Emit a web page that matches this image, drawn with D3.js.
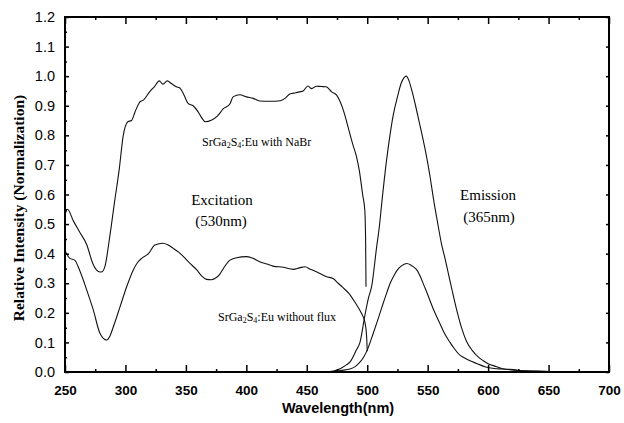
<!DOCTYPE html>
<html><head><meta charset="utf-8">
<script src="https://cdn.jsdelivr.net/npm/d3@7/dist/d3.min.js"></script>
<style>html,body{margin:0;padding:0;background:#fff;}svg{display:block;}</style>
</head><body>
<svg id="c" width="624" height="423"></svg>
<script>
// ---- data ----
const xTicks = [250,300,350,400,450,500,550,600,650,700];
const yTicks = [0.0,0.1,0.2,0.3,0.4,0.5,0.6,0.7,0.8,0.9,1.0,1.1,1.2];

const exNaBrX = [250,252,257,262,268,273,276,279,281,283,287,291,295,298,302,305,308,312,315,320,324,328,331,334.6,338,342,345,348,352,356,360,363,366,371,376,381,386.5,389,394.7,400,405.8,411,420,428,432,436,441,444,447,451,454,458,462,466,470.6,474.7,478,481,484,488,491,493.5,496.2,498,498.7,499];
const exNaBrY = [0.53,0.55,0.51,0.474,0.43,0.367,0.345,0.338,0.34,0.356,0.457,0.575,0.69,0.795,0.846,0.85,0.88,0.913,0.92,0.947,0.965,0.984,0.973,0.984,0.975,0.964,0.96,0.94,0.907,0.9,0.88,0.86,0.846,0.851,0.865,0.89,0.907,0.93,0.937,0.93,0.925,0.916,0.915,0.917,0.925,0.94,0.944,0.947,0.95,0.967,0.958,0.966,0.965,0.964,0.947,0.936,0.91,0.875,0.83,0.77,0.73,0.68,0.6,0.547,0.435,0.288];

const exNoFluxX = [250,254,258,262,268,273.4,279,284.5,287,290,295.5,301,306.5,310,313.4,319,324.4,331,335,339.6,344,348,353.4,359,363,367,371,374,378,381,386.5,392,400,405,411,417,422,430.6,438.8,444,448.5,453,458,466.4,471.7,476,480,485,490,495,498,499.5,500];
const exNoFluxY = [0.41,0.384,0.378,0.345,0.277,0.21,0.13,0.108,0.12,0.153,0.22,0.288,0.345,0.37,0.384,0.4,0.429,0.435,0.43,0.418,0.405,0.39,0.367,0.345,0.325,0.313,0.312,0.316,0.33,0.35,0.378,0.386,0.39,0.385,0.373,0.365,0.358,0.354,0.347,0.352,0.356,0.347,0.339,0.322,0.316,0.3,0.285,0.265,0.235,0.2,0.17,0.12,0.07];

const emNaBrX = [465,472,478,483,486,491,494,498,501,503.7,507.8,510,512,516,518.8,521.6,525,528,530.5,532.3,534.5,537,540,543,546,549,552,555,558,561.6,564,567,570,574,578,582,587,592,596,600,607,613,620.8,630,640,660,700];
const emNaBrY = [0,0.003,0.012,0.025,0.035,0.074,0.1,0.19,0.25,0.29,0.423,0.49,0.57,0.716,0.8,0.87,0.93,0.975,0.995,1.0,0.985,0.95,0.9,0.845,0.79,0.73,0.66,0.58,0.51,0.43,0.39,0.335,0.28,0.21,0.15,0.105,0.072,0.05,0.038,0.028,0.018,0.01,0.008,0.004,0.003,0.001,0.001];

const emNoFluxX = [470,478,485.7,490,493,497,500,505,510.5,513,516,519,521.6,525,528,532.6,536,538,541,544,547,550,553,556,560,563,568.5,571,576.7,579.5,585,590.5,598,605,612,625,640,660,700];
const emNoFluxY = [0,0.005,0.01,0.018,0.029,0.05,0.074,0.131,0.198,0.23,0.266,0.3,0.322,0.345,0.358,0.367,0.362,0.356,0.345,0.322,0.292,0.262,0.23,0.2,0.165,0.138,0.1,0.085,0.057,0.05,0.038,0.029,0.017,0.012,0.01,0.005,0.002,0.001,0.001];

// ---- layout ----
const L = 65, R = 609, T = 17, B = 372;
const svg = d3.select("#c");
const x = d3.scaleLinear().domain([250,700]).range([L,R]);
const y = d3.scaleLinear().domain([0,1.2]).range([B,T]);

const line = d3.line().x(d=>x(d[0])).y(d=>y(d[1])).curve(d3.curveMonotoneX);
const series = [[exNaBrX,exNaBrY],[exNoFluxX,exNoFluxY],[emNaBrX,emNaBrY],[emNoFluxX,emNoFluxY]];
series.forEach(([xs,ys])=>{
  svg.append("path").datum(xs.map((v,i)=>[v,ys[i]]))
    .attr("d",line).attr("fill","none").attr("stroke","#111").attr("stroke-width",1.1);
});

// ---- axes ----
const minorX = d3.range(275,700,50);
const minorY = d3.range(0.05,1.2,0.1);
function axisG(axis, tr){ return svg.append("g").attr("transform",tr).call(axis); }
const xb = axisG(d3.axisBottom(x).tickValues(xTicks).tickSizeInner(-7).tickSizeOuter(0).tickPadding(13).tickFormat(d3.format("d")), `translate(0,${B})`);
const xbm = axisG(d3.axisBottom(x).tickValues(minorX).tickSizeInner(-3).tickSizeOuter(0).tickFormat(""), `translate(0,${B})`);
const xt = axisG(d3.axisTop(x).tickValues(xTicks).tickSizeInner(-7).tickSizeOuter(0).tickFormat(""), `translate(0,${T})`);
const xtm = axisG(d3.axisTop(x).tickValues(minorX).tickSizeInner(-3).tickSizeOuter(0).tickFormat(""), `translate(0,${T})`);
const yl = axisG(d3.axisLeft(y).tickValues(yTicks).tickSizeInner(-4).tickSizeOuter(0).tickPadding(9).tickFormat(d3.format(".1f")), `translate(${L},0)`);
const ylm = axisG(d3.axisLeft(y).tickValues(minorY).tickSizeInner(-2).tickSizeOuter(0).tickFormat(""), `translate(${L},0)`);
const yr = axisG(d3.axisRight(y).tickValues(yTicks).tickSizeInner(-3).tickSizeOuter(0).tickFormat(""), `translate(${R},0)`);
svg.selectAll(".domain").remove();
svg.selectAll(".tick line").attr("stroke","#000").attr("stroke-width",1.5);
xb.selectAll(".tick text").attr("font-family","Liberation Sans, Arial, sans-serif").attr("font-weight","bold").attr("font-size","13.5px").attr("fill","#000");
yl.selectAll(".tick text").attr("font-family","Liberation Sans, Arial, sans-serif").attr("font-size","14.5px").attr("fill","#000").attr("dx","-1");

// frame
svg.append("rect").attr("x",L).attr("y",T).attr("width",R-L).attr("height",B-T)
  .attr("fill","none").attr("stroke","#000").attr("stroke-width",2);

// ---- titles ----
svg.append("text").attr("x",338).attr("y",413).attr("text-anchor","middle")
  .attr("font-family","Liberation Sans, Arial, sans-serif").attr("font-weight","bold").attr("font-size","14.5px")
  .text("Wavelength(nm)");
svg.append("text").attr("transform","translate(24,208) rotate(-90)").attr("text-anchor","middle")
  .attr("font-family","Liberation Serif, Times New Roman, serif").attr("font-weight","bold").attr("font-size","15.5px")
  .text("Relative Intensity (Normalization)");

// ---- annotations ----
const serif = "Liberation Serif, Times New Roman, serif";
function ann(tx, xx, yy, size){
  svg.append("text").attr("x",xx).attr("y",yy).attr("text-anchor","middle")
    .attr("font-family",serif).attr("font-size",size).text(tx);
}
ann("Excitation",222,205,"15px");
ann("(530nm)",221,226,"15px");
ann("Emission",488,200,"15px");
ann("(365nm)",489,222,"15px");

function formula(xx, yy, tail){
  const t = svg.append("text").attr("x",xx).attr("y",yy).attr("font-family",serif).attr("font-size","12px");
  t.append("tspan").text("SrGa");
  t.append("tspan").attr("font-size","8px").attr("dy",2).text("2");
  t.append("tspan").attr("dy",-2).text("S");
  t.append("tspan").attr("font-size","8px").attr("dy",2).text("4");
  t.append("tspan").attr("dy",-2).text(":Eu " + tail);
}
formula(202,146,"with NaBr");
formula(218,321,"without flux");
</script>
</body></html>
